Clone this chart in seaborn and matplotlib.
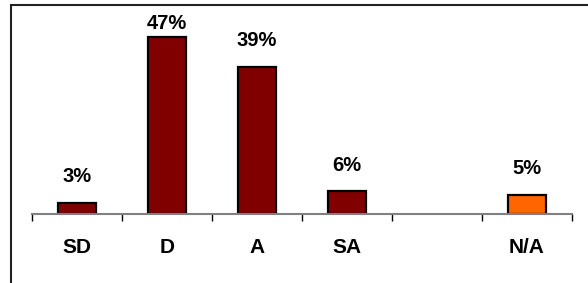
import numpy as np
import pandas as pd
import matplotlib
matplotlib.use("Agg")
import matplotlib.pyplot as plt
from matplotlib.patches import Rectangle
import seaborn as sns

categories = ["SD", "D", "A", "SA", " ", "N/A"]
percents = [3, 47, 39, 6, np.nan, 5]
bar_colors = ["#800000", "#800000", "#800000", "#800000", "#800000", "#FF6600"]

sns.set_theme(style="white")
plt.rcParams["font.family"] = ["Liberation Sans", "DejaVu Sans"]

df = pd.DataFrame({"category": categories, "percent": percents})

fig = plt.figure(figsize=(5.88, 2.83), dpi=100)
ax = fig.add_axes([32 / 588, 1 - 214 / 283, 540 / 588, 188.5 / 283])

sns.barplot(
    data=df, x="category", y="percent", hue="category", order=categories,
    hue_order=categories, palette=dict(zip(categories, bar_colors)),
    saturation=1, width=0.42, edgecolor="black", linewidth=1.6,
    legend=False, ax=ax,
)

ax.set_ylim(0, 50)
ax.set_xlim(-0.5, len(categories) - 0.5)
ax.set_xlabel("")
ax.set_ylabel("")
ax.set_yticks([])

# value labels; Excel pushes the tallest one down to stay inside the plot area
top = np.nanmax(percents)
for cont in ax.containers:
    vals = np.asarray(cont.datavalues, dtype=float)
    vals = vals[~np.isnan(vals)]
    if len(vals) == 0:
        continue
    labels = [f"{v:.0f}%" for v in vals]
    pad = 3 if vals.max() == top else 12
    ax.bar_label(cont, labels=labels, padding=pad, fontsize=14.5,
                 fontweight="bold", color="black")

for side in ["left", "right", "top"]:
    ax.spines[side].set_visible(False)
ax.spines["bottom"].set_color("#808080")
ax.spines["bottom"].set_linewidth(1.5)

ax.set_xticks(range(len(categories)))
ax.set_xticklabels(categories, fontsize=15, fontweight="bold", color="black")
ax.tick_params(axis="x", which="major", length=0, pad=17)
ax.set_xticks(np.arange(len(categories) + 1) - 0.5, minor=True)
ax.tick_params(axis="x", which="minor", length=5, width=1,
               color="black", direction="out", bottom=True)

# outer chart border (only top and left edges fall inside the image)
fig.patches.append(Rectangle((11 / 588, -0.1), 1.2, 1 - 5 / 283 + 0.1,
                             transform=fig.transFigure, fill=False,
                             edgecolor="#222222", linewidth=1.5))

fig.savefig("out.png", dpi=100)
